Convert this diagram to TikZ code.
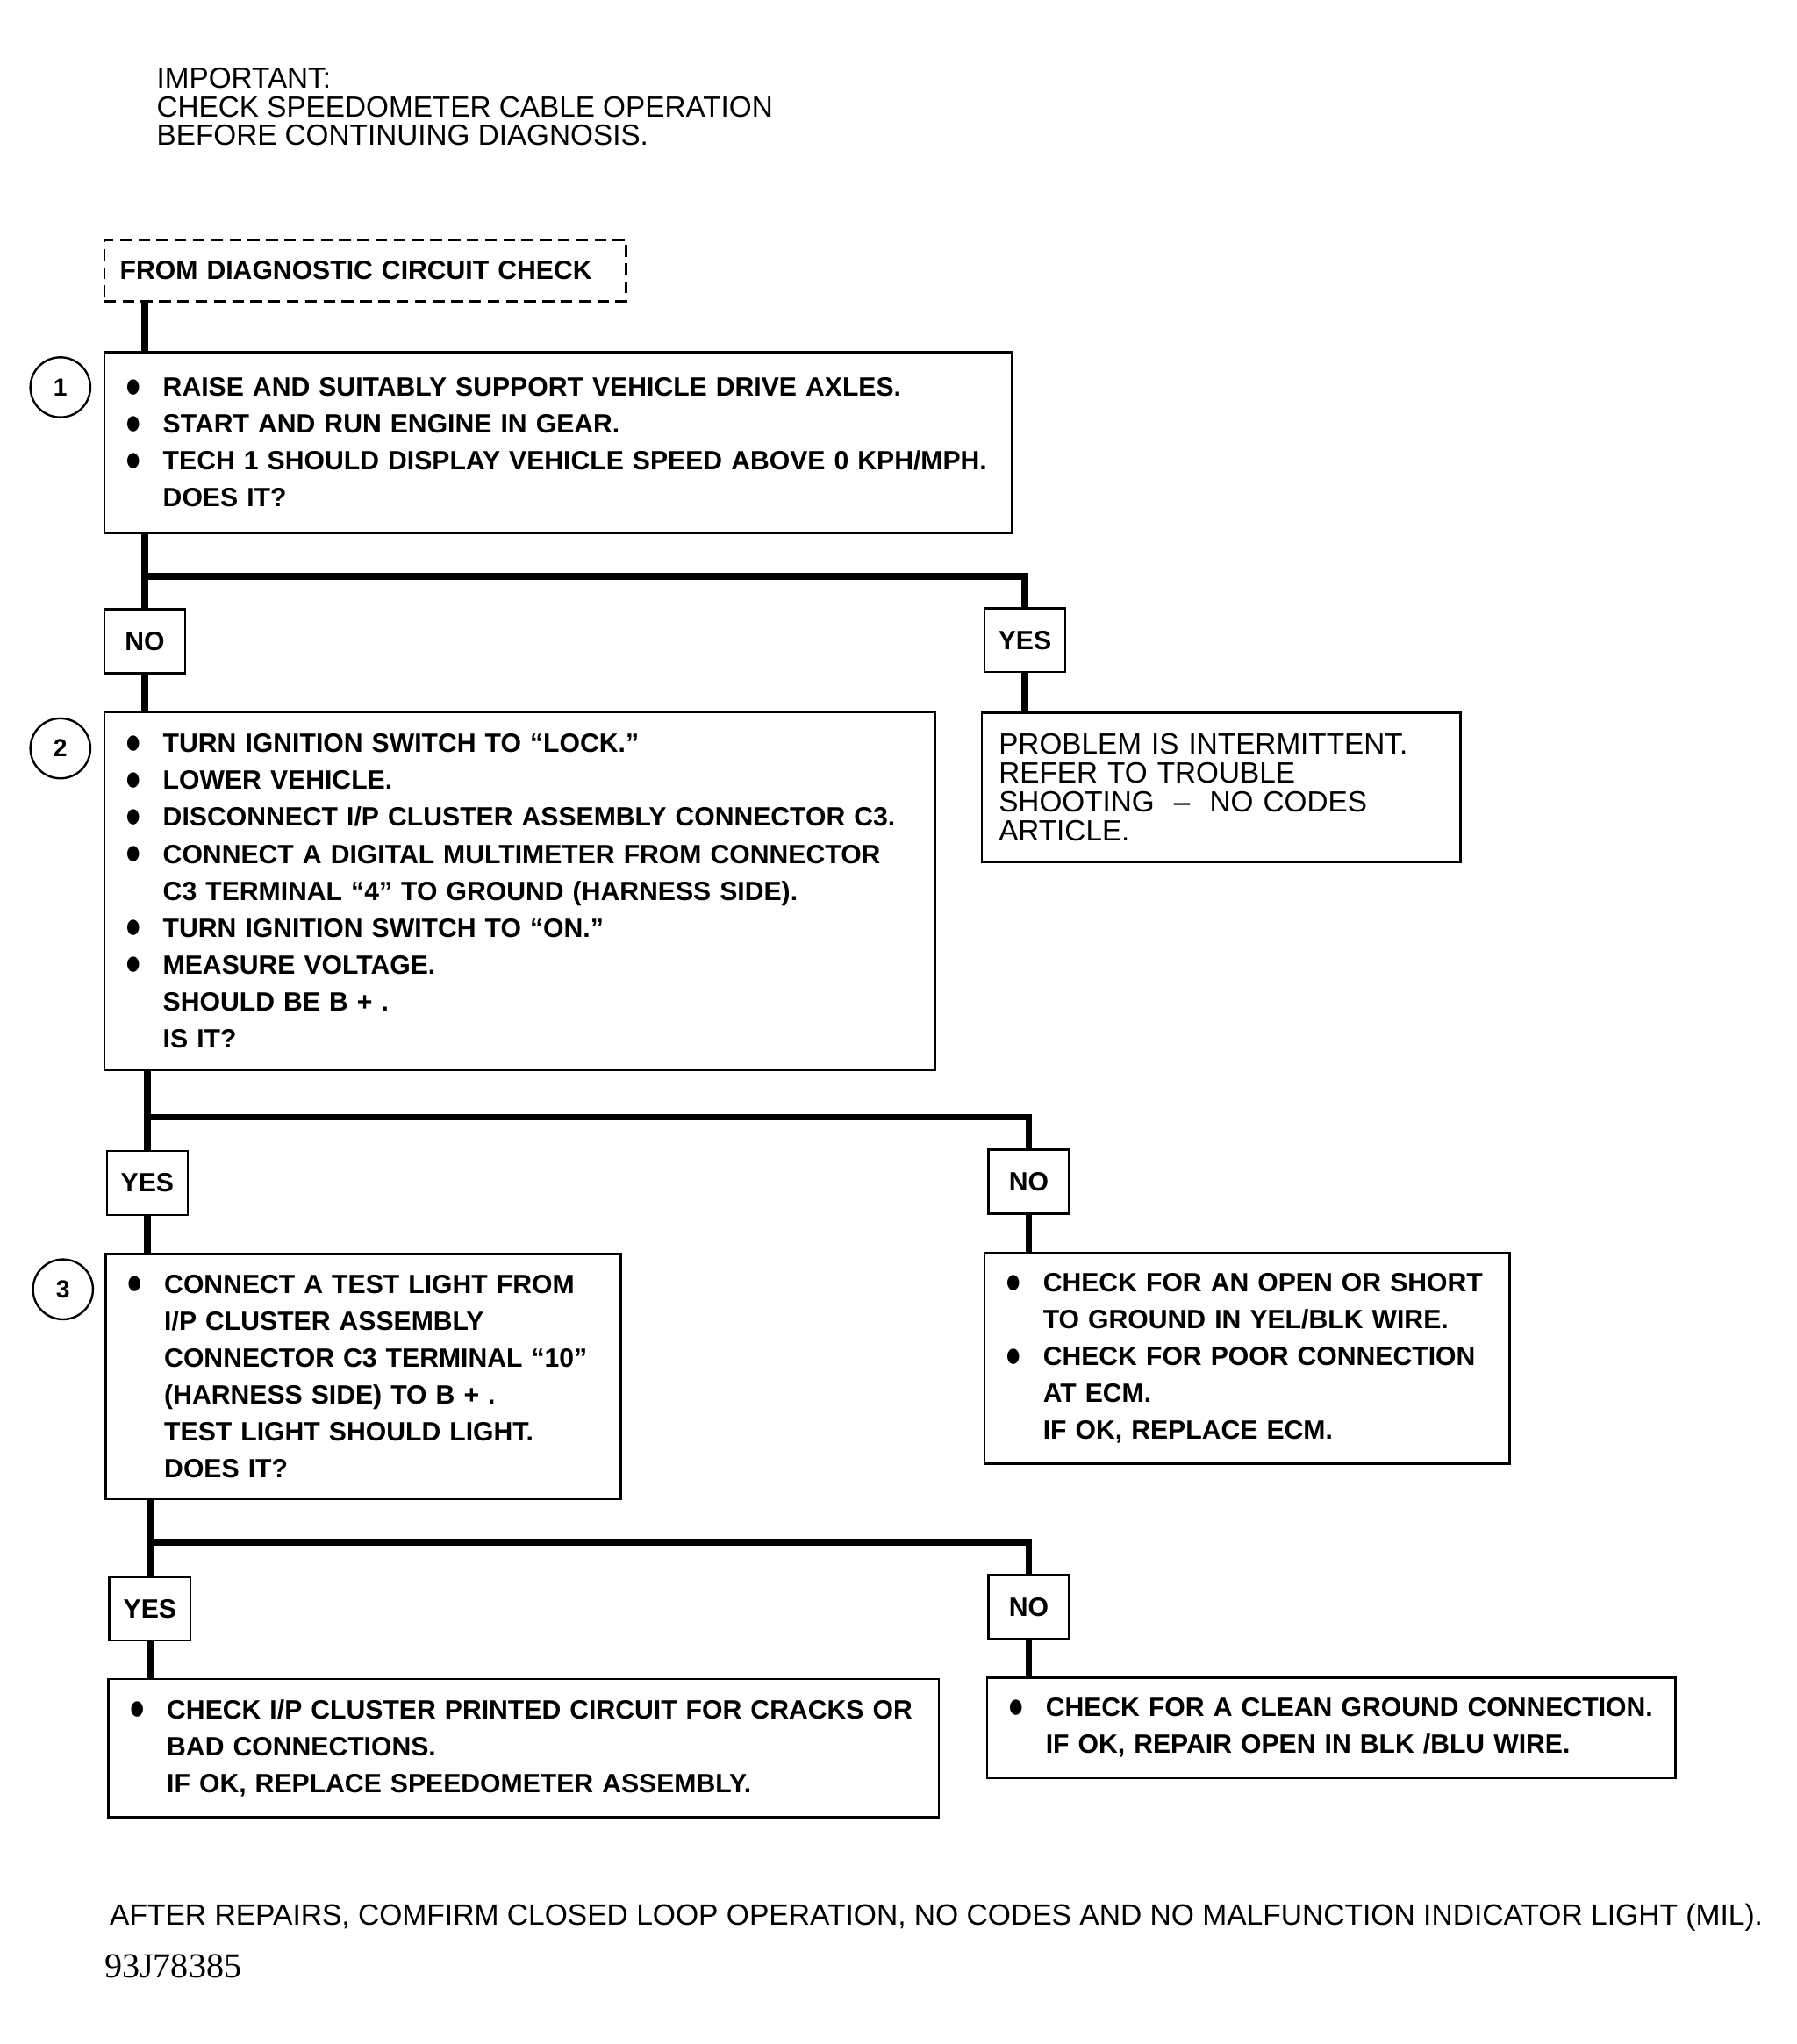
\documentclass[tikz,border=0pt]{standalone}
\usepackage{fontspec}
\setmainfont{Liberation Sans}
\newfontfamily\serifnum{Liberation Serif}
\newfontfamily\symfont{DejaVu Sans}
\usetikzlibrary{positioning}

\newcommand{\bul}{\makebox[28pt][l]{\raisebox{3pt}{\scalebox{0.85}[1.1]{\symfont\fontsize{14}{0}\selectfont ●}}}}
\newcommand{\ind}{\hspace*{28pt}}

\begin{document}
\begin{tikzpicture}[x=1pt, y=-1pt,
    stepbox/.style={rectangle, draw, line width=1.8pt, align=left,
                    inner xsep=17pt, inner ysep=0pt,
                    font=\bfseries\fontsize{20.3}{28.3}\selectfont},
    plainbox/.style={rectangle, draw, line width=1.8pt, align=left,
                     inner xsep=13pt, inner ysep=0pt,
                     font=\fontsize{22.4}{22.3}\selectfont},
    note/.style={align=left, inner sep=0pt,
                 font=\fontsize{22.4}{21.7}\selectfont},
    answer/.style={rectangle, draw, line width=1.8pt,
                   minimum width=62pt, minimum height=49pt,
                   font=\bfseries\fontsize{20.3}{24}\selectfont},
    numcirc/.style={circle, draw, line width=1.6pt, minimum size=46pt,
                    inner sep=0pt, font=\bfseries\fontsize{19}{22}\selectfont},
    link/.style={line width=5.2pt},
  ]
  \useasboundingbox (0,0) rectangle (1378,1568);

  \node[note, anchor=north west] (imp) at (120,52)
    {IMPORTANT:\\CHECK SPEEDOMETER CABLE OPERATION\\BEFORE CONTINUING DIAGNOSIS.};

  \node[draw, line width=1.8pt, dash pattern=on 9pt off 5pt,
        minimum width=400pt, minimum height=47pt, text width=376pt,
        inner xsep=12pt, align=left,
        font=\bfseries\fontsize{20.3}{24}\selectfont] (from) at (280,207.5)
    {FROM DIAGNOSTIC CIRCUIT CHECK};

  % step 1
  \node[stepbox, text width=662pt, minimum height=139pt] (s1) at (428,339.5)
    {\bul RAISE AND SUITABLY SUPPORT VEHICLE DRIVE AXLES.\\
     \bul START AND RUN ENGINE IN GEAR.\\
     \bul TECH 1 SHOULD DISPLAY VEHICLE SPEED ABOVE 0 KPH/MPH.\\
     \ind DOES IT?};
  \node[numcirc, left=9pt of s1.north west, yshift=-28pt] (c1) {1};

  \node[answer] (no1) at (111,492) {NO};
  \node[answer] (yes1) at (786,491) {YES};
  \coordinate (br1) at (111,442);

  \node[plainbox, text width=341pt, minimum height=114pt] (prob) at (936.5,604)
    {PROBLEM IS INTERMITTENT.\\
     REFER TO TROUBLE\\
     SHOOTING\ \ --\ \ NO CODES\\
     ARTICLE.};

  % step 2
  \node[stepbox, text width=603pt, minimum height=275pt] (s2) at (398.5,683.5)
    {\bul TURN IGNITION SWITCH TO “LOCK.”\\
     \bul LOWER VEHICLE.\\
     \bul DISCONNECT I/P CLUSTER ASSEMBLY CONNECTOR C3.\\
     \bul CONNECT A DIGITAL MULTIMETER FROM CONNECTOR\\
     \ind C3 TERMINAL “4” TO GROUND (HARNESS SIDE).\\
     \bul TURN IGNITION SWITCH TO “ON.”\\
     \bul MEASURE VOLTAGE.\\
     \ind SHOULD BE B + .\\
     \ind IS IT?};
  \node[numcirc, left=9pt of s2.north west, yshift=-29pt] (c2) {2};

  \node[answer] (yes2) at (113,907.5) {YES};
  \node[answer] (no2) at (789,906.5) {NO};
  \coordinate (br2) at (113,857);

  % step 3
  \node[stepbox, text width=361pt, minimum height=188pt] (s3) at (278.5,1056)
    {\bul CONNECT A TEST LIGHT FROM\\
     \ind I/P CLUSTER ASSEMBLY\\
     \ind CONNECTOR C3 TERMINAL “10”\\
     \ind (HARNESS SIDE) TO B + .\\
     \ind TEST LIGHT SHOULD LIGHT.\\
     \ind DOES IT?};
  \node[numcirc, left=8pt of s3.north west, yshift=-28pt] (c3) {3};

  \node[stepbox, text width=369pt, minimum height=162pt] (ecm) at (956.5,1042)
    {\bul CHECK FOR AN OPEN OR SHORT\\
     \ind TO GROUND IN YEL/BLK WIRE.\\
     \bul CHECK FOR POOR CONNECTION\\
     \ind AT ECM.\\
     \ind IF OK, REPLACE ECM.};

  \node[answer] (yes3) at (115,1234) {YES};
  \node[answer] (no3) at (789,1233) {NO};
  \coordinate (br3) at (115,1183);

  \node[stepbox, text width=603pt, minimum height=106pt] (speedo) at (401.5,1341)
    {\bul CHECK I/P CLUSTER PRINTED CIRCUIT FOR CRACKS OR\\
     \ind BAD CONNECTIONS.\\
     \ind IF OK, REPLACE SPEEDOMETER ASSEMBLY.};
  \node[stepbox, text width=494pt, minimum height=77pt] (gnd) at (1021,1325.5)
    {\bul CHECK FOR A CLEAN GROUND CONNECTION.\\
     \ind IF OK, REPAIR OPEN IN BLK /BLU WIRE.};

  % connectors
  \draw[link] (from.south -| no1) -- (s1.north -| no1);
  \draw[link] (s1.south -| no1) -- (no1);
  \draw[link] (no1) -- (s2.north -| no1);
  \draw[link] (br1) -| (yes1);
  \draw[link] (yes1) -- (prob.north -| yes1);

  \draw[link] (s2.south -| yes2) -- (yes2);
  \draw[link] (yes2) -- (s3.north -| yes2);
  \draw[link] (br2) -| (no2);
  \draw[link] (no2) -- (ecm.north -| no2);

  \draw[link] (s3.south -| yes3) -- (yes3);
  \draw[link] (yes3) -- (speedo.north -| yes3);
  \draw[link] (br3) -| (no3);
  \draw[link] (no3) -- (gnd.north -| no3);

  \node[note, anchor=north west] (after) at (84,1460)
    {\fontsize{22.6}{22}\selectfont AFTER REPAIRS, COMFIRM CLOSED LOOP OPERATION, NO CODES AND NO MALFUNCTION INDICATOR LIGHT (MIL).};
  \node[anchor=north west, inner sep=0pt,
        font=\serifnum\fontsize{27}{30}\selectfont] (figid) at (80,1499) {93J78385};
\end{tikzpicture}
\end{document}
